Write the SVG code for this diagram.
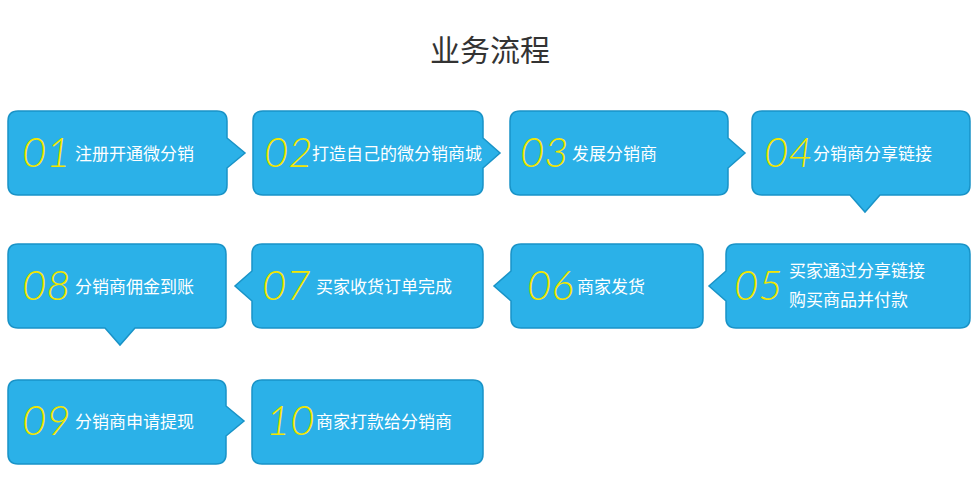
<svg xmlns="http://www.w3.org/2000/svg" width="980" height="479" viewBox="0 0 980 479">
<style>
.b{fill:#2bb1e8;stroke:#1993c7;stroke-width:1.5}
.n{font-family:Lato,"Open Sans",sans-serif;font-weight:300;font-style:italic;font-size:42px;fill:#f2e600}
.t{font-family:"Noto Sans CJK SC",sans-serif;font-size:17px;fill:#fff}
.h{font-family:"Noto Sans CJK SC",sans-serif;font-size:30px;fill:#333}
</style>
<rect width="980" height="479" fill="#fff"/>
<text class="h" x="490" y="61" text-anchor="middle">业务流程</text>
<g id="connectors"></g>
<g id="n01"><path class="b" d="M18,111H217Q227,111 227,121V138L245,153L227,168V185Q227,195 217,195H18Q8,195 8,185V121Q8,111 18,111Z"/><text class="n" x="22" y="167">01</text><text class="t" x="75" y="160">注册开通微分销</text></g>
<g id="n02"><path class="b" d="M263,111H473Q483,111 483,121V138L500,153L483,168V185Q483,195 473,195H263Q253,195 253,185V121Q253,111 263,111Z"/><text class="n" x="264" y="167">02</text><text class="t" x="312" y="160">打造自己的微分销商城</text></g>
<g id="n03"><path class="b" d="M520,111H718Q728,111 728,121V138L745,153L728,168V185Q728,195 718,195H520Q510,195 510,185V121Q510,111 520,111Z"/><text class="n" x="520" y="167">03</text><text class="t" x="572" y="160">发展分销商</text></g>
<g id="n04"><path class="b" d="M762,111H960Q970,111 970,121V185Q970,195 960,195H880L865,212L850,195H762Q752,195 752,185V121Q752,111 762,111Z"/><text class="n" x="764" y="167">04</text><text class="t" x="813" y="160">分销商分享链接</text></g>
<g id="n05"><path class="b" d="M736,244H960Q970,244 970,254V318Q970,328 960,328H736Q726,328 726,318V301L709,286L726,271V254Q726,244 736,244Z"/><text class="n" x="734" y="300">05</text><text class="t" x="789" y="277">买家通过分享链接</text><text class="t" x="789" y="306">购买商品并付款</text></g>
<g id="n06"><path class="b" d="M521,244H693Q703,244 703,254V318Q703,328 693,328H521Q511,328 511,318V301L494,286L511,271V254Q511,244 521,244Z"/><text class="n" x="527" y="300">06</text><text class="t" x="577" y="293">商家发货</text></g>
<g id="n07"><path class="b" d="M262,244H473Q483,244 483,254V318Q483,328 473,328H262Q252,328 252,318V301L235,286L252,271V254Q252,244 262,244Z"/><text class="n" x="262" y="300">07</text><text class="t" x="316" y="293">买家收货订单完成</text></g>
<g id="n08"><path class="b" d="M18,244H216Q226,244 226,254V318Q226,328 216,328H135L120,345L105,328H18Q8,328 8,318V254Q8,244 18,244Z"/><text class="n" x="22" y="300">08</text><text class="t" x="75" y="293">分销商佣金到账</text></g>
<g id="n09"><path class="b" d="M18,380H216Q226,380 226,390V406L244,421L226,436V454Q226,464 216,464H18Q8,464 8,454V390Q8,380 18,380Z"/><text class="n" x="22" y="435">09</text><text class="t" x="75" y="428">分销商申请提现</text></g>
<g id="n10"><path class="b" d="M262,380H473Q483,380 483,390V454Q483,464 473,464H262Q252,464 252,454V390Q252,380 262,380Z"/><text class="n" x="266" y="435">10</text><text class="t" x="316" y="428">商家打款给分销商</text></g>
</svg>
